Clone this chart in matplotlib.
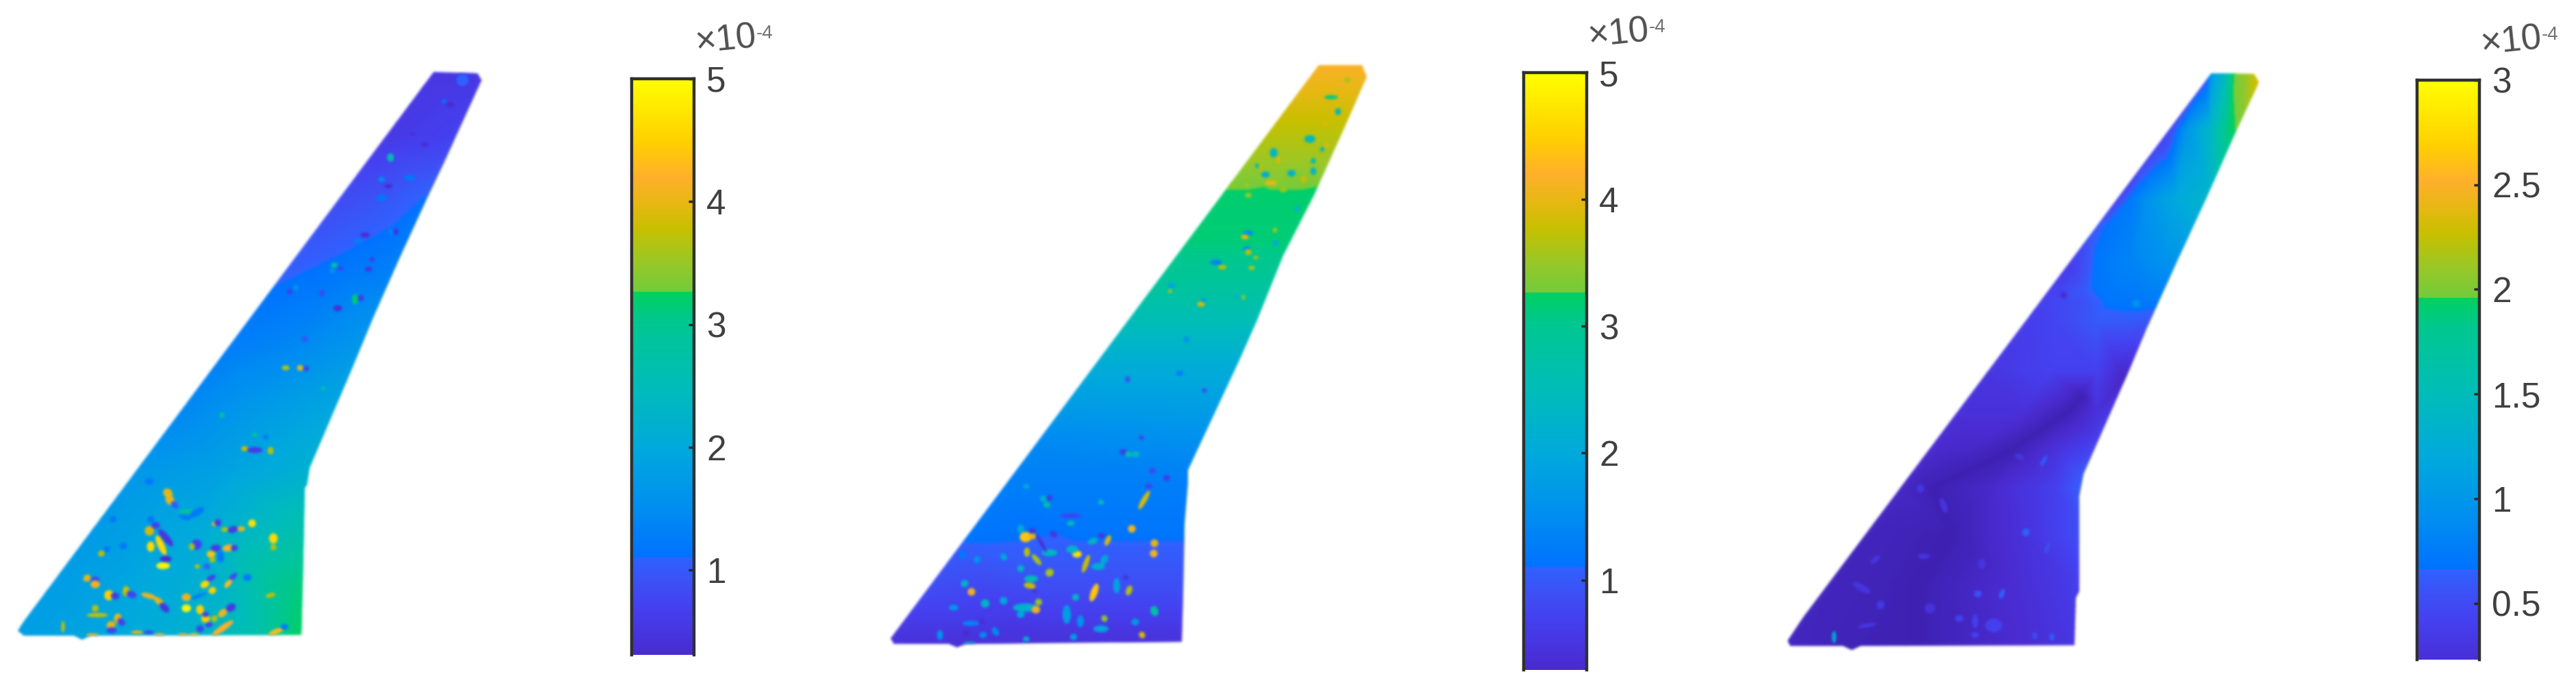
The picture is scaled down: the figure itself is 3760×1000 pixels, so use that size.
import numpy as np
import matplotlib
matplotlib.use('Agg')
import matplotlib.pyplot as plt
from matplotlib.collections import PatchCollection
from matplotlib.colors import LinearSegmentedColormap, Normalize
from matplotlib.patches import Ellipse, Polygon

plt.rcParams['font.family'] = ['Liberation Sans', 'DejaVu Sans']

# colours, 0 to full scale (two hard steps in it)
cmap_pos = [0.0, 0.062, 0.137, 0.179, 0.22, 0.22, 0.306, 0.40, 0.503, 0.606, 0.653, 0.653, 0.70, 0.756, 0.798, 0.84, 0.897, 1.0]
cmap_col = ['#3a1ea8', '#4a2bd0', '#4540f0', '#3d50f5', '#2f62ff', '#0072ff', '#0090f0', '#00aadc', '#00bdb8', '#00c890',
            '#00d060', '#72cc3c', '#98c828', '#c8c000', '#e8b814', '#ffb02c', '#ffd000', '#ffff00']

# wing outlines
wing1_x = [633, 697, 703, 650, 623, 583, 545, 513, 452, 448, 445, 442, 440, 132, 120, 108, 35, 25]
wing1_y = [105, 107, 117, 233, 290, 377, 463, 540, 683, 708, 712, 853, 927, 928, 934, 928, 928, 920]
wing2_x = [1925, 1988, 1995, 1962, 1917, 1873, 1835, 1807, 1734, 1734, 1729, 1727, 1725, 1410, 1397, 1385, 1305, 1300]
wing2_y = [95, 95, 112, 187, 287, 373, 467, 530, 686, 705, 765, 867, 937, 940, 945, 940, 940, 932]
wing3_x = [3228, 3290, 3297, 3260, 3220, 3177, 3157, 3133, 3108, 3041, 3035, 3035, 3030, 3028, 2716, 2703, 2690, 2613, 2608]
wing3_y = [107, 108, 120, 200, 290, 383, 427, 480, 540, 692, 723, 863, 873, 942, 943, 949, 943, 943, 933]

# background field, sampled on each wing
field1_x = [625, 670, 715, 555, 675, 480, 560, 635, 405, 500, 590, 330, 430, 545, 255, 370, 500, 190, 320, 460, 130, 290, 455, 70, 200, 320, 400, 455, 15, 150, 280, 380, 430, 455]
field1_y = [95, 95, 95, 200, 200, 290, 290, 290, 400, 400, 400, 500, 500, 500, 600, 600, 600, 690, 690, 690, 770, 770, 770, 850, 850, 850, 850, 850, 940, 940, 940, 940, 940, 940]
field1_v = [0.5, 0.5, 0.5, 0.55, 0.7, 0.8, 0.95, 1.15, 1.05, 1.2, 1.35, 1.25, 1.4, 1.7, 1.4, 1.7, 2.0, 1.65, 1.85, 2.2, 1.7, 2.0, 2.7, 1.75, 1.95, 2.2, 2.9, 3.2, 1.8, 1.95, 2.2, 2.7, 3.2, 3.5]

field2_x = [1915, 1962, 2010, 1865, 1925, 1985, 1815, 1882, 1950, 1785, 1860, 1935, 1775, 1852, 1930, 1725, 1812, 1900, 1675, 1772, 1870, 1595, 1710, 1825, 1510, 1635, 1760, 1465, 1605, 1745, 1405, 1572, 1740, 1390, 1565, 1740, 1345, 1542, 1740, 1285, 1512, 1740]
field2_y = [85, 85, 85, 160, 160, 160, 230, 230, 230, 270, 270, 270, 282, 282, 282, 350, 350, 350, 420, 420, 420, 530, 530, 530, 640, 640, 640, 700, 700, 700, 780, 780, 780, 800, 800, 800, 860, 860, 860, 950, 950, 950]
field2_v = [4.2, 4.2, 4.2, 3.85, 3.85, 3.85, 3.55, 3.55, 3.55, 3.35, 3.35, 3.35, 3.2, 3.2, 3.2, 3.15, 3.15, 3.15, 2.85, 2.85, 2.85, 2.1, 2.1, 2.1, 1.45, 1.5, 1.55, 1.3, 1.3, 1.3, 1.15, 1.15, 1.15, 1.05, 1.05, 1.05, 0.85, 0.85, 0.85, 0.35, 0.35, 0.35]

field3_x = [3218, 3228, 3245, 3258, 3265, 3280, 3305, 3155, 3172, 3193, 3227, 3253, 3270, 3080, 3098, 3110, 3143, 3177, 3230, 3015, 3040, 3060, 3110, 3160, 3190, 2960, 2993, 3043, 3077, 3127, 3170, 2940, 3000, 3060, 3110, 3150, 2890, 2993, 3060, 3093, 3120, 2850, 2950, 3020, 3060, 3110, 2810, 2880, 2940, 3000, 3080, 2765, 2820, 2900, 3000, 3050, 2715, 2850, 2950, 3045, 2660, 2800, 2950, 3045, 2600, 2800, 2950, 3040, 3100, 3040, 2980, 2880, 3050, 3075, 3045, 3055, 3065, 3100, 3125, 2750, 2700]
field3_y = [95, 95, 95, 95, 95, 95, 95, 190, 190, 190, 190, 190, 190, 290, 290, 290, 290, 290, 290, 380, 380, 380, 380, 380, 380, 440, 440, 440, 440, 440, 440, 470, 470, 470, 470, 470, 540, 540, 540, 540, 540, 600, 600, 600, 600, 600, 654, 654, 654, 654, 654, 712, 712, 712, 712, 712, 780, 780, 780, 780, 860, 860, 860, 860, 950, 950, 950, 950, 550, 578, 628, 685, 330, 330, 420, 420, 455, 455, 455, 860, 950]
field3_v = [0.3, 0.9, 1.3, 1.85, 2.0, 2.1, 2.45, 0.3, 0.55, 1.0, 1.4, 1.9, 2.0, 0.3, 0.5, 0.72, 1.0, 1.2, 1.4, 0.3, 0.5, 0.7, 0.82, 0.95, 1.0, 0.35, 0.45, 0.55, 0.69, 0.72, 0.75, 0.35, 0.45, 0.6, 0.6, 0.55, 0.3, 0.42, 0.42, 0.2, 0.15, 0.25, 0.25, 0.05, 0.25, 0.4, 0.2, 0.15, 0.05, 0.25, 0.5, 0.15, 0.05, 0.15, 0.4, 0.72, 0.1, 0.05, 0.25, 0.55, 0.1, 0.05, 0.22, 0.4, 0.12, 0.05, 0.2, 0.33, 0.12, 0.05, 0.05, 0.05, 0.55, 0.68, 0.6, 0.68, 0.64, 0.66, 0.66, 0.07, 0.07]

# speckles: centre, width, height, angle, value
spot1_x = [245, 248, 255, 273, 287, 270, 218, 165, 315, 318, 368, 328, 340, 352, 218, 227, 220, 242, 235, 220, 399, 399, 287, 280, 315, 308, 333, 342, 322, 310, 242, 238, 288, 302, 148, 156, 180, 127, 139, 139, 308, 299, 310, 340, 333, 361, 159, 168, 184, 192, 217, 232, 240, 272, 290, 272, 292, 300, 300, 395, 139, 142, 172, 177, 162, 163, 92, 325, 337, 325, 313, 292, 305, 403, 415, 135, 200, 233, 267, 283, 217, 357, 372, 395]
spot1_y = [720, 730, 737, 747, 748, 755, 703, 758, 764, 763, 764, 773, 773, 772, 775, 767, 758, 785, 796, 798, 786, 799, 795, 798, 800, 809, 800, 800, 813, 817, 816, 826, 827, 827, 808, 802, 797, 844, 847, 853, 844, 853, 862, 842, 852, 843, 869, 870, 863, 868, 870, 878, 887, 872, 870, 888, 890, 903, 897, 869, 888, 898, 903, 908, 913, 920, 915, 895, 887, 917, 903, 918, 912, 922, 915, 927, 923, 927, 927, 927, 923, 655, 657, 658]
spot1_w = [12, 12, 10, 20, 20, 14, 10, 8, 10, 8, 9, 8, 12, 9, 11, 10, 8, 25, 25, 9, 10, 7, 12, 7, 12, 10, 13, 8, 8, 7, 14, 16, 6, 8, 8, 8, 9, 9, 10, 11, 12, 11, 9, 12, 12, 10, 11, 10, 8, 12, 18, 14, 14, 11, 20, 11, 9, 10, 8, 12, 8, 25, 9, 10, 10, 12, 4, 12, 12, 30, 8, 9, 9, 6, 9, 14, 14, 12, 12, 12, 12, 8, 18, 7]
spot1_h = [10, 10, 7, 6, 8, 6, 8, 8, 6, 8, 9, 6, 8, 6, 11, 8, 8, 8, 8, 12, 12, 7, 12, 8, 8, 8, 8, 7, 14, 7, 7, 8, 5, 7, 7, 7, 8, 8, 8, 9, 6, 8, 8, 6, 6, 8, 12, 8, 12, 8, 6, 7, 8, 9, 4, 9, 11, 10, 6, 5, 8, 5, 12, 8, 10, 7, 14, 8, 9, 7, 7, 8, 6, 18, 7, 4, 4, 4, 4, 4, 4, 6, 7, 9]
spot1_a = [45, 60, 45, 0, -30, 15, 0, 0, -20, 0, 0, 0, -15, 0, 0, 0, 0, 50, 65, 0, 0, 0, 0, 0, 0, 0, -10, 0, 0, 0, 0, 0, 0, 0, -30, -30, 0, -40, 0, 0, -30, -30, -30, -40, -50, 0, 0, 0, 0, 20, 15, 40, 45, 0, -20, 0, 0, 0, 0, -15, 0, 0, 0, 45, 0, 0, 0, -40, -30, -35, -40, 0, 0, 70, 0, 0, 0, 0, 0, 0, 0, 0, 0, 0]
spot1_v = [4.0, 4.0, 1.0, 2.9, 1.2, 1.2, 1.2, 1.2, 4.0, 0.6, 4.7, 3.6, 0.6, 4.0, 3.9, 0.7, 1.2, 0.5, 4.6, 4.6, 4.6, 3.7, 0.7, 3.6, 0.6, 4.4, 4.2, 0.6, 1.2, 3.6, 0.35, 4.9, 3.8, 1.1, 3.7, 1.2, 1.2, 4.0, 0.7, 4.1, 0.7, 4.6, 4.5, 0.8, 4.3, 1.2, 4.5, 0.6, 3.8, 0.7, 4.1, 4.0, 0.5, 4.1, 1.2, 4.9, 4.5, 4.5, 0.6, 3.8, 3.7, 3.8, 4.0, 0.7, 4.0, 0.7, 3.8, 4.1, 0.6, 4.2, 3.7, 0.7, 0.7, 4.3, 1.2, 4.1, 4.0, 4.2, 4.2, 4.4, 0.7, 3.8, 0.6, 3.7]
# upper wing speckles
top1_x = [675, 570, 557, 567, 598, 557, 657, 648, 602, 620, 533, 523, 578, 570, 538, 543, 488, 497, 485, 432, 423, 470, 518, 527, 493, 445, 417, 438, 447, 324, 372, 388, 472]
top1_y = [117, 230, 262, 272, 260, 289, 153, 148, 196, 211, 343, 352, 338, 338, 393, 379, 387, 392, 395, 420, 426, 428, 437, 435, 450, 495, 537, 537, 538, 606, 635, 638, 567]
top1_w = [14, 8, 8, 10, 13, 12, 8, 5, 6, 8, 11, 10, 5, 4, 8, 6, 8, 6, 7, 6, 6, 6, 7, 7, 10, 8, 9, 7, 6, 6, 8, 6, 6]
top1_h = [14, 10, 6, 5, 7, 8, 6, 5, 4, 5, 6, 6, 8, 6, 6, 5, 6, 5, 6, 7, 6, 8, 12, 7, 7, 7, 6, 7, 6, 7, 5, 6, 5]
top1_v = [1.1, 2.6, 1.5, 0.3, 1.2, 1.2, 0.3, 1.2, 0.35, 0.35, 0.35, 1.3, 0.4, 1.5, 0.5, 0.5, 2.8, 0.7, 1.6, 1.7, 0.6, 0.8, 3.2, 0.6, 0.4, 1.0, 3.6, 4.0, 0.6, 2.8, 2.8, 1.2, 2.6]

spot2_x = [1640, 1647, 1658, 1682, 1703, 1677, 1670, 1607, 1523, 1532, 1528, 1498, 1563, 1563, 1652, 1497, 1507, 1507, 1490, 1538, 1617, 1595, 1608, 1685, 1684, 1499, 1513, 1532, 1520, 1572, 1565, 1585, 1603, 1612, 1465, 1426, 1405, 1490, 1532, 1505, 1503, 1510, 1408, 1418, 1597, 1630, 1648, 1643, 1438, 1465, 1392, 1497, 1512, 1516, 1490, 1570, 1557, 1577, 1612, 1607, 1685, 1667, 1657, 1433, 1417, 1372, 1435, 1453, 1498, 1567, 1415, 1410]
spot2_y = [660, 663, 663, 687, 698, 710, 730, 733, 728, 727, 737, 710, 764, 753, 772, 784, 783, 775, 772, 780, 789, 790, 782, 793, 808, 806, 817, 807, 793, 809, 802, 823, 827, 817, 813, 817, 810, 830, 836, 845, 855, 863, 852, 864, 865, 855, 862, 843, 881, 877, 887, 887, 890, 879, 897, 872, 897, 907, 903, 918, 892, 927, 908, 907, 910, 927, 927, 922, 933, 930, 939, 925]
spot2_w = [9, 8, 9, 8, 8, 8, 6, 7, 8, 7, 8, 7, 9, 25, 9, 14, 8, 8, 8, 9, 6, 12, 8, 9, 9, 7, 16, 18, 4, 11, 14, 6, 16, 8, 7, 8, 8, 8, 10, 16, 14, 8, 9, 9, 8, 8, 7, 7, 10, 9, 11, 30, 10, 8, 9, 8, 10, 8, 7, 18, 9, 7, 9, 8, 20, 7, 9, 7, 8, 8, 14, 8]
spot2_h = [7, 7, 7, 7, 7, 6, 25, 6, 7, 6, 7, 6, 6, 5, 9, 12, 7, 6, 10, 7, 13, 7, 6, 9, 9, 11, 6, 8, 25, 8, 9, 22, 8, 12, 9, 9, 11, 8, 9, 8, 7, 5, 8, 9, 22, 18, 12, 6, 10, 9, 7, 10, 9, 8, 8, 8, 22, 14, 8, 8, 12, 8, 8, 7, 6, 12, 7, 11, 6, 8, 3, 8]
spot2_a = [0, 0, 0, 0, 0, 0, 30, 20, 0, 0, 0, 0, 0, 0, -30, 0, 0, 0, 0, 40, 25, -20, 0, 0, 0, 0, 50, 0, -30, 0, 0, 20, 0, 30, -35, 0, 0, 0, -30, 0, 10, 0, -30, -30, 20, 0, 20, 0, 0, 0, 0, 0, 0, 0, 0, 0, 0, 0, -30, 0, -20, -30, 0, 0, 0, 0, 0, -30, 0, 0, 0, 0]
spot2_v = [0.6, 2.6, 2.4, 0.8, 0.6, 0.7, 3.9, 2.5, 2.3, 0.5, 2.7, 2.0, 2.5, 0.7, 4.1, 4.4, 4.0, 0.4, 2.0, 0.5, 3.9, 2.4, 0.5, 4.0, 4.1, 3.7, 3.6, 2.4, 0.4, 4.7, 2.3, 3.8, 2.2, 2.0, 2.0, 1.6, 1.2, 2.3, 3.6, 2.5, 3.8, 0.5, 2.3, 4.1, 4.4, 1.9, 3.7, 0.5, 2.3, 2.0, 1.7, 2.2, 4.1, 3.5, 2.0, 2.4, 1.8, 1.6, 3.4, 1.9, 2.8, 3.9, 1.7, 0.4, 1.4, 1.6, 1.5, 1.5, 2.2, 1.8, 2.2, 0.35]
top2_x = [1943, 1967, 1953, 1935, 1912, 1859, 1866, 1937, 1930, 1917, 1917, 1885, 1847, 1855, 1840, 1835, 1903, 1873, 1800, 1820, 1822, 1893, 1822, 1817, 1861, 1862, 1820, 1822, 1833, 1775, 1784, 1827, 1710, 1708, 1753, 1757, 1815, 1805, 1732, 1646, 1722, 1758, 1666]
top2_y = [142, 117, 163, 180, 203, 223, 234, 212, 218, 235, 250, 253, 255, 267, 243, 242, 262, 277, 270, 270, 285, 305, 340, 346, 336, 355, 363, 368, 376, 383, 390, 391, 417, 425, 444, 438, 434, 433, 496, 554, 545, 570, 639]
top2_w = [16, 8, 7, 7, 13, 9, 5, 7, 5, 6, 7, 10, 10, 14, 6, 5, 7, 8, 6, 7, 8, 6, 12, 9, 5, 6, 9, 8, 6, 14, 10, 8, 10, 5, 9, 6, 5, 5, 7, 6, 9, 6, 6]
top2_h = [5, 6, 8, 6, 9, 11, 8, 6, 6, 7, 9, 8, 7, 6, 7, 6, 8, 6, 6, 5, 6, 7, 6, 6, 6, 7, 6, 7, 4, 6, 5, 5, 6, 5, 6, 5, 6, 5, 7, 7, 6, 5, 5]
top2_v = [3.1, 3.6, 2.4, 3.9, 2.4, 2.3, 3.9, 3.9, 2.4, 2.6, 2.3, 2.3, 2.0, 4.0, 3.8, 2.6, 3.8, 3.6, 3.4, 3.5, 3.5, 2.2, 1.5, 3.9, 3.6, 2.0, 1.5, 3.7, 3.7, 1.3, 3.8, 3.6, 1.9, 3.5, 3.9, 1.7, 3.3, 2.1, 1.6, 0.9, 1.3, 0.8, 0.7]

spot3_x = [2677, 2957, 2922, 2887, 2860, 2995, 2970, 2745, 2725, 2717, 2803, 2837, 2808, 2737, 2817, 2883, 2910, 2883, 2988, 2893, 2983, 2948]
spot3_y = [930, 777, 867, 867, 903, 930, 928, 883, 913, 858, 713, 738, 812, 817, 888, 907, 913, 927, 800, 823, 673, 667]
spot3_w = [5, 9, 6, 9, 10, 6, 6, 9, 22, 24, 9, 7, 14, 14, 12, 7, 20, 9, 4, 9, 5, 12]
spot3_h = [14, 9, 12, 8, 8, 9, 9, 10, 5, 8, 10, 18, 6, 6, 12, 16, 16, 7, 14, 12, 14, 6]
spot3_a = [0, 0, 20, 0, 0, 0, 0, 0, -10, 30, 0, -20, 0, -40, 0, 0, 0, 0, 20, 0, 30, 20]
spot3_v = [1.25, 0.65, 0.65, 0.55, 0.42, 0.6, 0.5, 0.35, 0.3, 0.3, 0.3, 0.3, 0.3, 0.3, 0.28, 0.42, 0.42, 0.42, 0.55, 0.3, 0.6, 0.3]
top3_x = [3012, 3118, 3168]
top3_y = [431, 443, 447]
top3_w = [8, 10, 10]
top3_h = [8, 9, 9]
top3_v = [0.2, 0.95, 0.85]

# colour bars: the pictures are cut off, so the view starts above zero
bar1_box = [922, 1013, 115, 956]
bar2_box = [2224, 2316, 106, 978]
bar3_box = [3528, 3619, 117, 963]
bar1_view = [0.31, 5.0]
bar2_view = [0.29, 5.0]
bar3_view = [0.23, 3.0]
bar1_ticks = [1, 2, 3, 4, 5]
bar2_ticks = [1, 2, 3, 4, 5]
bar3_ticks = [0.5, 1, 1.5, 2, 2.5, 3]
bar3_labels = ['0.5', '1', '1.5', '2', '2.5', '3']

W, H = 3760, 1000
cmap = LinearSegmentedColormap.from_list('bar', list(zip(cmap_pos, cmap_col)), N=1024)

fig = plt.figure(figsize=(W / 100, H / 100), dpi=100, facecolor='white')
ax = fig.add_axes([0, 0, 1, 1])
ax.set_xlim(0, W)
ax.set_ylim(H, 0)
ax.axis('off')


def blur(sigma):
    # agg filter, the reference is a soft screenshot
    pad = int(sigma * 3) + 1
    kernel = np.exp(-0.5 * (np.arange(-pad, pad + 1) / sigma) ** 2)
    kernel = kernel / kernel.sum()

    def run(img, dpi):
        out = np.zeros((img.shape[0] + 2 * pad, img.shape[1] + 2 * pad, 4))
        out[pad:-pad, pad:-pad, :] = img
        out[:, :, :3] = out[:, :, :3] * out[:, :, 3:]
        for c in range(4):
            out[:, :, c] = np.apply_along_axis(np.convolve, 0, out[:, :, c], kernel, mode='same')
            out[:, :, c] = np.apply_along_axis(np.convolve, 1, out[:, :, c], kernel, mode='same')
        alpha = np.clip(out[:, :, 3:], 1e-4, 1)
        out[:, :, :3] = np.clip(out[:, :, :3] / alpha, 0, 1)
        return out, -pad, -pad
    return run


def draw_wing(wx, wy, fx, fy, fv, sx, sy, sw, sh, sa, sv, vmax):
    norm = Normalize(0, vmax)
    outline = Polygon(np.column_stack([wx, wy]), closed=True, transform=ax.transData, fc='none', ec='none')
    ax.add_patch(outline)
    cs = ax.tricontourf(fx, fy, fv, levels=np.linspace(0, vmax, 500), cmap=cmap, norm=norm, extend='both')
    cs.set_clip_path(outline)
    cs.set_agg_filter(blur(1.8))
    spots = []
    for i in range(len(sx)):
        spots.append(Ellipse((sx[i], sy[i]), sw[i] * 1.25, sh[i] * 1.25, angle=sa[i], fc=cmap(norm(sv[i])), ec='none'))
    coll = PatchCollection(spots, match_original=True, zorder=3)
    ax.add_collection(coll)
    coll.set_clip_path(outline)
    coll.set_agg_filter(blur(1.8))


def draw_bar(box, view, vmax, ticks, labels):
    x0, x1, y0, y1 = box
    cax = fig.add_axes([x0 / W, 1 - y1 / H, (x1 - x0) / W, (y1 - y0) / H])
    grad = np.linspace(0, vmax, 1024).reshape(-1, 1)
    cax.imshow(grad, origin='lower', aspect='auto', extent=[0, 1, 0, vmax], cmap=cmap, vmin=0, vmax=vmax)
    cax.set_ylim(view[0], view[1])
    cax.set_xticks([])
    cax.yaxis.tick_right()
    cax.set_yticks(ticks)
    cax.set_yticklabels(labels)
    cax.tick_params(axis='y', direction='in', length=6, width=2.5, color='#262626', pad=13, labelsize=37, labelcolor='#404040')
    cax.spines['bottom'].set_visible(False)
    for side in ['left', 'right', 'top']:
        cax.spines[side].set_linewidth(3.2)
        cax.spines[side].set_color('#303030')
    # exponent above the bar
    ax.text(x1 + 3, y0 - 37, '\u00d710', fontsize=38, color='#505050', rotation=6, ha='left', va='baseline', rotation_mode='anchor')
    ax.text(x1 + 91, y0 - 59, '-4', fontsize=20, color='#707070', ha='left', va='baseline')


draw_wing(wing1_x, wing1_y, field1_x, field1_y, field1_v, spot1_x + top1_x, spot1_y + top1_y, spot1_w + top1_w,
          spot1_h + top1_h, spot1_a + [0] * len(top1_x), spot1_v + top1_v, bar1_view[1])
draw_wing(wing2_x, wing2_y, field2_x, field2_y, field2_v, spot2_x + top2_x, spot2_y + top2_y, spot2_w + top2_w,
          spot2_h + top2_h, spot2_a + [0] * len(top2_x), spot2_v + top2_v, bar2_view[1])
draw_wing(wing3_x, wing3_y, field3_x, field3_y, field3_v, spot3_x + top3_x, spot3_y + top3_y, spot3_w + top3_w,
          spot3_h + top3_h, spot3_a + [0] * len(top3_x), spot3_v + top3_v, bar3_view[1])

draw_bar(bar1_box, bar1_view, bar1_view[1], bar1_ticks, [str(t) for t in bar1_ticks])
draw_bar(bar2_box, bar2_view, bar2_view[1], bar2_ticks, [str(t) for t in bar2_ticks])
draw_bar(bar3_box, bar3_view, bar3_view[1], bar3_ticks, bar3_labels)

fig.savefig('out.png', dpi=100, facecolor='white')
